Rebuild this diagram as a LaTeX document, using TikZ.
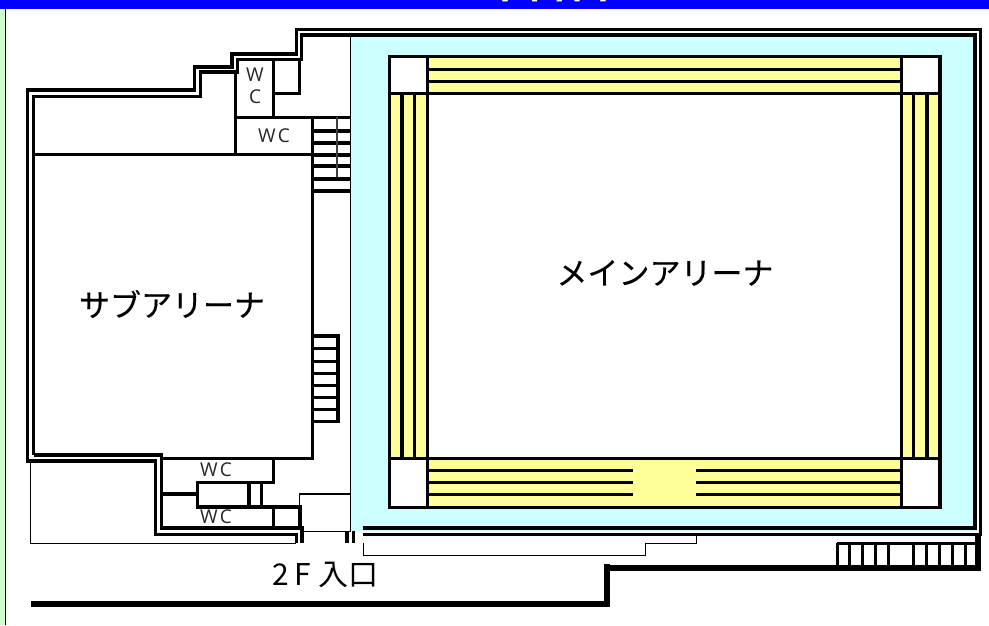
\documentclass[tikz,border=0pt]{standalone}
\usepackage{fontspec}
\setmainfont{Noto Sans CJK JP}
\newfontfamily\labelfont[FakeBold=0.35]{Noto Sans CJK JP}
\newfontfamily\wcfont{Open Sans}
\definecolor{cy}{HTML}{CCFFFF}
\definecolor{ye}{HTML}{FFFF99}
\definecolor{gr}{HTML}{CCFFCC}
\tikzset{
  wall/.style={line width=3.6pt,line cap=butt,line join=miter},
  thin wall/.style={line width=1.3pt,line join=miter},
  heavy/.style={line width=6pt,line join=miter},
  big/.style={inner sep=0pt,font=\labelfont\fontsize{31}{31}\selectfont,text=black},
  small/.style={inner sep=0pt,font=\wcfont\fontsize{19}{22}\selectfont,text=black!85},
}
\begin{document}
\begin{tikzpicture}[x=1pt,y=-1pt]
\useasboundingbox (0,0) rectangle (989,625);
\fill[white] (0,0) rectangle (989,625);
\fill[gr] (0,0) rectangle (5,625);
\fill[black] (5,0) rectangle (6.2,625);
\begin{scope}
\clip (0,0) rectangle (989,9);
\fill[blue] (0,0) rectangle (989,9);
\node[inner sep=0pt,text=white,font=\bfseries\fontsize{36}{36}\selectfont,anchor=base] (title) at (548,-1.5) {平\hspace{7pt}面\hspace{7pt}図};
\end{scope}
% cyan hall
\fill[cy] (351,35) rectangle (977,531);
\draw[thin wall] (350.6,35) -- (350.6,531.5) -- (302,531.5);
\draw[thin wall] (299.5,507) -- (299.5,494) -- (350.6,494);
% bands
\fill[ye] (389,56) rectangle (940,507);
\fill[white] (427.3,93.3) rectangle (901.3,458.3);
\foreach \a/\b in {389.3/56.3,901.3/56.3}
  \fill[white] (\a,\b) rectangle ++(38,37);
\foreach \a/\b in {389.3/458.3,901.3/458.3}
  \fill[white] (\a,\b) rectangle ++(38,49);
\draw[wall] (389.3,56.3) rectangle (939.7,507.3);
\draw[wall] (427.3,56.3) -- (427.3,507.3);
\draw[wall] (901.3,56.3) -- (901.3,507.3);
\draw[wall] (389.3,93.3) -- (939.7,93.3);
\draw[wall] (389.3,458.3) -- (939.7,458.3);
\foreach \y in {69.3,81.3} \draw[wall] (427.3,\y) -- (901.3,\y);
\foreach \y in {470.3,482.3,494.3} {
  \draw[wall] (427.3,\y) -- (633,\y);
  \draw[wall] (696,\y) -- (901.3,\y);
}
\foreach \x in {401.7,414.3,913.3,926.7} \draw[wall] (\x,93.3) -- (\x,458.3);
% double outer wall
\draw[wall] (27.5,461) -- (27.5,90) -- (194.5,90) -- (194.5,67) -- (232,67) -- (232,52) (232,54) -- (296.5,54) -- (296.5,29.5) -- (980.5,29.5) -- (980.5,534.5) -- (363,534.5);
\draw[wall] (33.5,455) -- (33.5,96.5) -- (200.5,96.5) -- (200.5,72) -- (237.5,72) -- (237.5,59.5) -- (301.5,59.5) -- (301.5,35) -- (975,35) -- (975,528) -- (363,528);
\draw[wall] (26,461) -- (155.5,461) -- (155.5,534.5) -- (296.5,534.5) -- (296.5,543);
\draw[wall] (33.5,455) -- (161.5,455) -- (161.5,528) -- (302,528) -- (302,543);
\draw[thin wall] (30.5,461) -- (30.5,543.3) -- (296,543.3);
\draw[wall] (346.7,531) -- (346.7,543);
\draw[wall] (353.5,531) -- (353.5,543);
\draw[thin wall] (363.4,543) -- (363.4,555.4) -- (645.3,555.4) -- (645.3,543.4) -- (696.7,543.4) -- (696.7,535);
% sub arena
\draw[wall] (33.5,154.3) -- (312.5,154.3);
\draw[wall] (312.5,117.3) -- (312.5,458.3) -- (160,458.3);
\draw[wall] (235.5,72) -- (235.5,154.3);
\draw[wall] (235.5,117.3) -- (351,117.3);
\draw[wall] (273.3,59.5) -- (273.3,117.3);
\draw[wall] (299.5,59.5) -- (299.5,93.3) -- (273.3,93.3);
\foreach \y in {130.7,142.7,154.7,166,178.7,190.7} \draw[wall] (312.5,\y) -- (351,\y);
\draw[line width=2pt,black!75] (336.7,117.3) -- (336.7,177);
\foreach \y in {336,348.3,361.3,373.3,385.3,397.3,409.3,421.3} \draw[wall] (312.5,\y) -- (340,\y);
\draw[wall] (337.7,336) -- (337.7,421.3);
% lower WC
\draw[wall] (273.3,458.3) -- (273.3,482.3) -- (197.3,482.3) -- (197.3,507) -- (299.7,507) -- (299.7,528);
\draw[wall] (273.3,507) -- (273.3,528);
\draw[wall] (248.7,482.3) -- (248.7,507);
\draw[wall] (261.3,482.3) -- (261.3,507);
\draw[wall] (161.5,493.7) -- (197.3,493.7);
% outside walls
\draw[heavy] (31,604) -- (606.8,604) -- (606.8,564);
\draw[heavy] (604,568) -- (980.7,568);
\draw[heavy] (978,534) -- (978,571);
\draw[wall] (837.3,543.3) -- (975,543.3);
\foreach \x in {837.3,849.3,862.3,875.3,888.3,913.3,926.3,939.3,952.3,965.3} \draw[wall] (\x,543.3) -- (\x,568);
% labels
\node[big] (main) at (665,273) {メインアリーナ};
\node[big] (sub) at (172,304) {サブアリーナ};
\node[big,font=\fontsize{30}{30}\selectfont] (entry) at (325.5,575) {2\hspace{5pt}F\hspace{8pt}入口};
\node[small,align=center] (wc1) at (255,86) {W\\C};
\node[small] (wc2) at (274,136) {W\hspace{2pt}C};
\node[small] (wc3) at (216,470) {W\hspace{2pt}C};
\node[small] (wc4) at (216,516.5) {W\hspace{2pt}C};
\end{tikzpicture}
\end{document}
